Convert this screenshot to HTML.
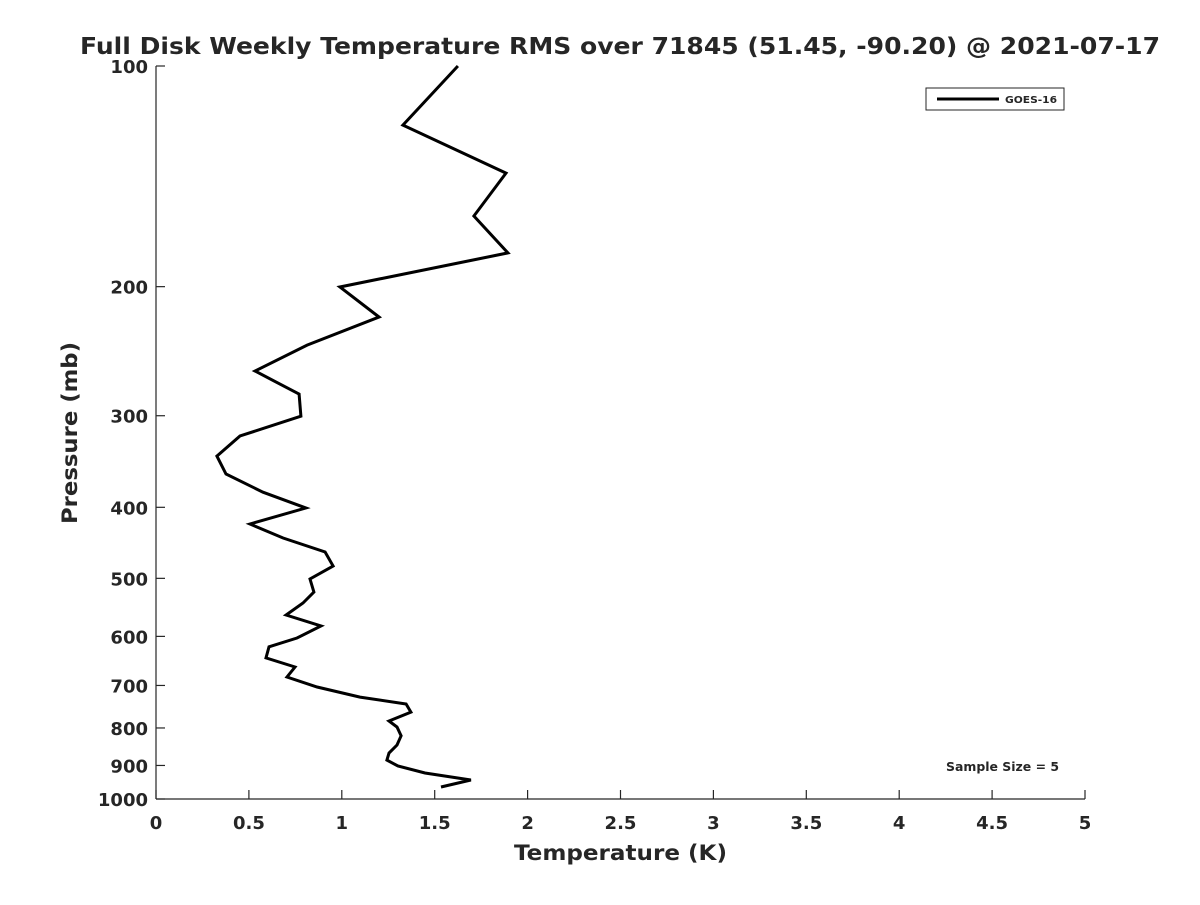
<!DOCTYPE html>
<html><head><meta charset="utf-8"><style>
body{margin:0;background:#fff}
svg text{font-family:"DejaVu Sans","Liberation Sans",sans-serif;font-weight:bold;fill:#262626}
</style></head><body>
<svg width="1200" height="900" viewBox="0 0 1200 900">
<text x="80" y="54" font-size="23" textLength="1080" lengthAdjust="spacingAndGlyphs" fill="#000">Full Disk Weekly Temperature RMS over 71845 (51.45, -90.20) @ 2021-07-17</text>
<g id="axes"></g>
<text x="514" y="860" font-size="21" textLength="213" lengthAdjust="spacingAndGlyphs">Temperature (K)</text>
<text transform="translate(77,524) rotate(-90)" font-size="21" textLength="182" lengthAdjust="spacingAndGlyphs">Pressure (mb)</text>
<g>
<rect x="926" y="88" width="138" height="22" fill="#fff" stroke="#262626" stroke-width="1"/>
<line x1="937" y1="99" x2="999" y2="99" stroke="#000" stroke-width="3"/>
<text x="1005" y="103" font-size="10" textLength="52" lengthAdjust="spacingAndGlyphs" fill="#000">GOES-16</text>
</g>
<text x="946" y="771" font-size="12" textLength="113" lengthAdjust="spacingAndGlyphs" fill="#000">Sample Size = 5</text>
<polyline id="series" fill="none" stroke="#000" stroke-width="3" stroke-linejoin="miter"/>
</svg>
<script>
const temps=[1.625,1.329,1.884,1.711,1.894,0.990,1.200,0.813,0.533,0.770,0.780,0.452,0.328,0.377,0.576,0.807,0.506,0.684,0.910,0.953,0.829,0.850,0.791,0.700,0.888,0.759,0.608,0.592,0.748,0.705,0.867,1.098,1.346,1.372,1.254,1.297,1.319,1.297,1.254,1.243,1.302,1.448,1.695,1.534];
const pressures=[100,120.4,140,160.2,179.9,200.2,220,240.3,260.7,280.3,300.4,319.7,340.6,360.3,381.4,400.9,421.5,440.5,460.3,481,501,522,540.3,561,580.7,603,620,642,660.6,681.7,703.5,726,742,761,782.8,797.6,820,844,865.6,885,901.6,921.6,942,963];
const xTicks=[0,0.5,1,1.5,2,2.5,3,3.5,4,4.5,5];
const xTickLabels=["0","0.5","1","1.5","2","2.5","3","3.5","4","4.5","5"];
const yTicks=[100,200,300,400,500,600,700,800,900,1000];
const yTickLabels=["100","200","300","400","500","600","700","800","900","1000"];
const X0=156,X1=1085,Y0=66,Y1=799,xMin=0,xMax=5,pMin=100,pMax=1000;
const sx=v=>X0+(v-xMin)/(xMax-xMin)*(X1-X0);
const sy=p=>Y0+Math.log10(p/pMin)/Math.log10(pMax/pMin)*(Y1-Y0);
const NS="http://www.w3.org/2000/svg";
const ax=document.getElementById('axes');
function mk(t,a){const e=document.createElementNS(NS,t);for(const k in a)e.setAttribute(k,a[k]);ax.appendChild(e);return e;}
let e=mk('line',{x1:X0,y1:Y1,x2:X1,y2:Y1,stroke:'#262626','stroke-width':1.2});


e=mk('line',{x1:X0,y1:Y0,x2:X0,y2:Y1,stroke:'#262626','stroke-width':1.2});


xTicks.forEach((v,i)=>{
 const x=sx(v);
 let t=mk('line',{x1:x,y1:Y1,x2:x,y2:Y1-9,stroke:'#262626','stroke-width':1.2});
 
 
 let l=mk('text',{x:x,y:Y1+30,'font-size':18,'text-anchor':'middle'});
 l.textContent=xTickLabels[i];
 
 
});
yTicks.forEach((v,i)=>{
 const y=sy(v);
 let t=mk('line',{x1:X0,y1:y,x2:X0+9,y2:y,stroke:'#262626','stroke-width':1.2});
 
 
 let l=mk('text',{x:X0-8,y:y+7,'font-size':18,'text-anchor':'end'});
 l.textContent=yTickLabels[i];
 
 
});
document.getElementById('series').setAttribute('points',temps.map((t,i)=>sx(t).toFixed(1)+','+sy(pressures[i]).toFixed(1)).join(' '));
</script>
</body></html>
